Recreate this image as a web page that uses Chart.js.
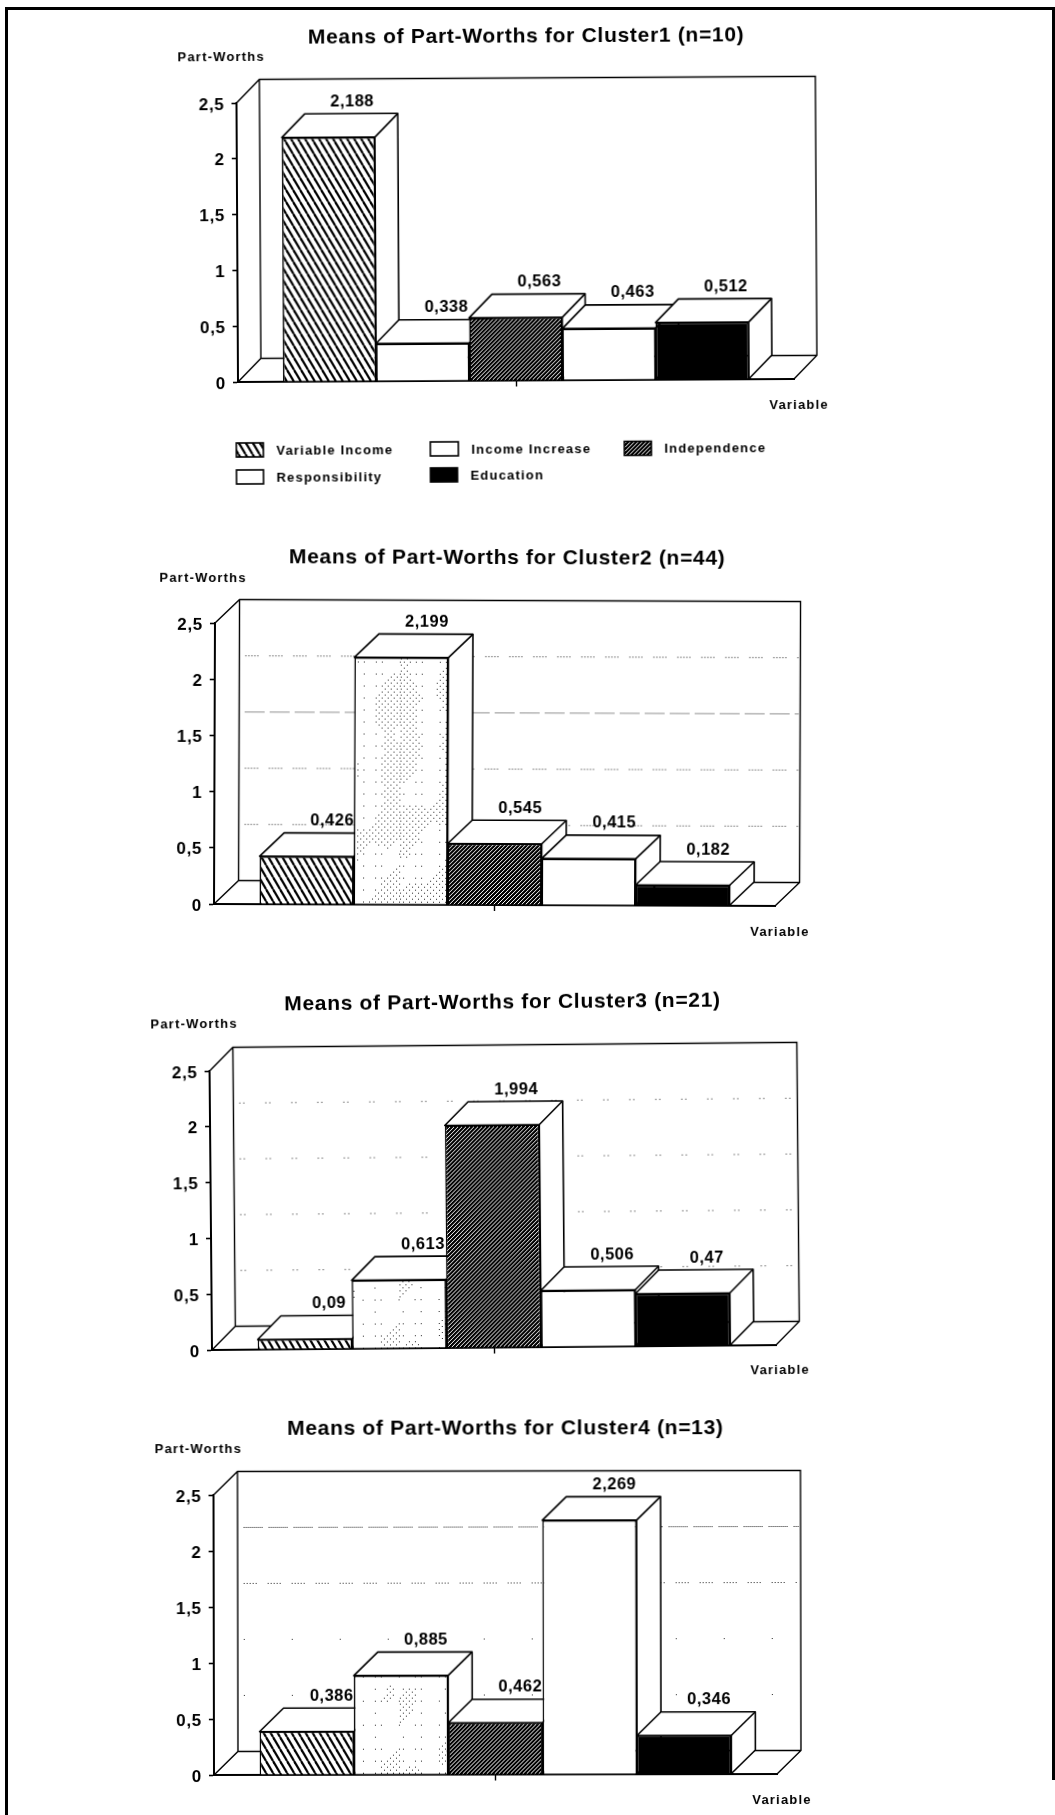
<!DOCTYPE html>
<html>
<head>
<meta charset="utf-8">
<title>Means of Part-Worths</title>
<script src="https://cdn.jsdelivr.net/npm/chart.js@4/dist/chart.umd.min.js"></script>
<style>
    html, body { margin: 0; padding: 0; background: #fff; }
    body { width: 1055px; height: 1815px; position: relative; overflow: hidden; }
    #frame { position: absolute; left: 5px; top: 7px; width: 1047px; height: 1810px; border-top: 3px solid #000; border-left: 3px solid #000; }
    #frameRight { position: absolute; left: 1052px; top: 7px; width: 3px; height: 1773px; background: #000; }
    canvas { position: absolute; }
</style>
</head>
<body>
<div id="frame"></div>
<div id="frameRight"></div>
<script>
// values
const categories = [''];
const seriesNames = ['Variable Income', 'Income Increase', 'Independence', 'Responsibility', 'Education'];
const cluster1 = [2.188, 0.338, 0.563, 0.463, 0.512];
const cluster2 = [0.426, 2.199, 0.545, 0.415, 0.182];
const cluster3 = [0.09, 0.613, 1.994, 0.506, 0.47];
const cluster4 = [0.386, 0.885, 0.462, 2.269, 0.346];
const clusterSizes = [10, 44, 21, 13];
const yTickLabels = ['0', '0,5', '1', '1,5', '2', '2,5'];
const gridValues = [0.5, 1, 1.5, 2];

// where each of the four scanned charts sits on the page
const charts = [
    { values: cluster1, titleX: 528, top: 22, left: 238, right: 794, y25: 103, y0: 382, dx: 23, dy: 23.5, tilt: -0.31, yName: [223, 58], xName: [799, 405], extra: 110, stipple: null, grid: null },
    { values: cluster2, titleX: 506, top: 541, left: 214, right: 775, y25: 623, y0: 904, dx: 24.5, dy: 23.5, tilt: 0.2, yName: [202, 578], xName: [780, 932], extra: 40, stipple: 'dense', grid: ['medium', 'medium', 'dense', 'medium'] },
    { values: cluster3, titleX: 505.5, top: 989, left: 212, right: 776, y25: 1071, y0: 1350, dx: 23.5, dy: 23.5, tilt: -0.5, yName: [197, 1025], xName: [780, 1370], extra: 40, stipple: 'light', grid: ['sparse', 'sparse', 'sparse', 'sparse'] },
    { values: cluster4, titleX: 506, top: 1413, left: 214, right: 777, y25: 1495, y0: 1775, dx: 24, dy: 23.5, tilt: -0.1, yName: [199, 1449], xName: [782, 1800], extra: 38, stipple: 'light', grid: ['rare', 'rare', 'medium', 'dense'] }
];
const legendSpots = [[236, 443, 27], [430, 443, 28], [624, 443.5, 27], [236, 470, 27], [430, 469, 27]];

const dashes = {
    dense: [1, 1, 1, 1, 1, 1, 1, 1, 1, 1, 1, 1, 1, 1, 1, 1, 1, 1, 1, 6],
    medium: [1, 2, 1, 2, 1, 2, 1, 2, 1, 11],
    sparse: [1, 3, 1, 21],
    rare: [1, 47]
};

const fontFamily = '"Liberation Sans", Arial, sans-serif';

function makeTile(w, h) {
    let tile = document.createElement('canvas');
    tile.width = w;
    tile.height = h;
    let c = tile.getContext('2d');
    c.fillStyle = '#fff';
    c.fillRect(0, 0, w, h);
    return [tile, c];
}

function backslashHatch() {
    let [tile, c] = makeTile(7, 12);
    c.strokeStyle = '#000';
    c.lineWidth = 2.2;
    for (let i = -1; i <= 1; i++) {
        c.beginPath();
        c.moveTo(i * 7, 0);
        c.lineTo(i * 7 + 7, 12);
        c.stroke();
    }
    return c.createPattern(tile, 'repeat');
}

function slashHatch() {
    let [tile, c] = makeTile(4, 4);
    c.fillStyle = '#000';
    for (let y = 0; y < 4; y++) {
        for (let x = 0; x < 4; x++) {
            if ((x + y) % 4 != 3) c.fillRect(x, y, 1, 1);
        }
    }
    return c.createPattern(tile, 'repeat');
}

// blotchy halftone of the copied bars: fixed dot lattice, thick in the blotches
function stipple(blotch, scatter) {
    let [tile, c] = makeTile(400, 400);
    c.fillStyle = '#222';
    for (let y = 0; y < 400; y += 3) {
        for (let x = (y / 3) % 2 ? 0 : 3; x < 400; x += 6) {
            let field = Math.sin(x * 0.13 + 1) + Math.sin(y * 0.09 + x * 0.05) + Math.sin((x + y) * 0.07);
            let keep = field > blotch;
            if (!keep && (x % 18 == 3 || x % 30 == 15) && y % 12 == 0) keep = Math.sin(x * 0.31) * Math.cos(y * 0.23) > scatter;
            if (keep) c.fillRect(x, y, 1, 1);
        }
    }
    return c.createPattern(tile, 'repeat');
}

const stripes = backslashHatch();
const darkStripes = slashHatch();
const stipples = { dense: stipple(0.1, -0.7), light: stipple(1.6, -0.3) };

function drawBox(chart, i, dx, dy) {
    const ctx = chart.ctx;
    const bar = chart.getDatasetMeta(i).data[0].getProps(['x', 'y', 'base', 'width'], true);
    const l = bar.x - bar.width / 2, r = bar.x + bar.width / 2;
    ctx.save();
    ctx.fillStyle = '#fff';
    ctx.strokeStyle = '#000';
    ctx.lineWidth = 1.6;
    ctx.lineJoin = 'round';
    ctx.beginPath();
    ctx.moveTo(l, bar.y);
    ctx.lineTo(l + dx, bar.y - dy);
    ctx.lineTo(r + dx, bar.y - dy);
    ctx.lineTo(r + dx, bar.base - dy);
    ctx.lineTo(r, bar.base);
    ctx.lineTo(r, bar.y);
    ctx.closePath();
    ctx.fill();
    ctx.stroke();
    ctx.beginPath();
    ctx.moveTo(r, bar.y);
    ctx.lineTo(r + dx, bar.y - dy);
    ctx.stroke();
    ctx.restore();
}

// the 3D box round the plot, the bar tops and sides, and the loose labels
const depthPlugin = {
    id: 'depth',
    afterLayout(chart) {
        // title centred on the whole canvas, not on the padded part
        chart.titleBlock.left = 0;
        chart.titleBlock.right = chart.width;
    },
    beforeDraw(chart) {
        chart.ctx.letterSpacing = '0.7px';
    },
    beforeDatasetsDraw(chart, args, opts) {
        const ctx = chart.ctx;
        const y = chart.scales.y;
        const a = chart.chartArea;
        const dx = opts.dx, dy = opts.dy;
        ctx.save();
        ctx.strokeStyle = '#000';
        ctx.lineWidth = 1.4;
        ctx.beginPath();
        ctx.moveTo(a.left, a.top);
        ctx.lineTo(a.left + dx, a.top - dy);
        ctx.lineTo(a.right + dx, a.top - dy);
        ctx.lineTo(a.right + dx, a.bottom - dy);
        ctx.lineTo(a.right, a.bottom);
        ctx.moveTo(a.left, a.bottom);
        ctx.lineTo(a.left + dx, a.bottom - dy);
        ctx.lineTo(a.right + dx, a.bottom - dy);
        ctx.moveTo(a.left + dx, a.top - dy);
        ctx.lineTo(a.left + dx, a.bottom - dy);
        ctx.stroke();
        if (opts.grid) {
            ctx.strokeStyle = '#222';
            ctx.lineWidth = 1;
            gridValues.forEach((v, i) => {
                ctx.setLineDash(dashes[opts.grid[i]]);
                ctx.beginPath();
                ctx.moveTo(a.left + dx + 6, y.getPixelForValue(v) - dy);
                ctx.lineTo(a.right + dx - 2, y.getPixelForValue(v) - dy);
                ctx.stroke();
            });
        }
        ctx.restore();
        // left to right, so each bar covers the side of the one before it
        chart.data.datasets.forEach((ds, i) => {
            drawBox(chart, i, dx, dy);
            chart.getDatasetMeta(i).controller.draw();
        });
        return false;
    },
    afterDraw(chart, args, opts) {
        const ctx = chart.ctx;
        // page spot -> canvas spot, undoing the tilt of the scan
        const local = (p) => [p[0], p[1] - opts.top - (p[0] - opts.left) * Math.tan(opts.tilt * Math.PI / 180)];
        ctx.save();
        ctx.fillStyle = '#000';
        ctx.textBaseline = 'middle';
        ctx.textAlign = 'center';
        ctx.font = 'bold 16.5px ' + fontFamily;
        ctx.letterSpacing = '0.5px';
        chart.data.datasets.forEach((ds, i) => {
            const bar = chart.getDatasetMeta(i).data[0].getProps(['x', 'y'], true);
            ctx.fillText(String(ds.data[0]).replace('.', ','), bar.x + opts.dx + 1, bar.y - opts.dy - 12);
        });
        ctx.font = 'bold 13px ' + fontFamily;
        ctx.letterSpacing = '1.2px';
        ctx.fillText('Part-Worths', ...local(opts.yName));
        ctx.fillText('Variable', ...local(opts.xName));
        if (opts.legend) {
            ctx.textAlign = 'left';
            opts.legend.forEach((item, i) => {
                const ds = chart.data.datasets[i];
                ctx.fillStyle = ds.backgroundColor;
                ctx.fillRect(item[0], item[1] - opts.top, item[2], 14);
                ctx.strokeStyle = '#000';
                ctx.lineWidth = 1.6;
                ctx.strokeRect(item[0], item[1] - opts.top, item[2], 14);
                ctx.fillStyle = '#000';
                ctx.fillText(ds.label, item[0] + item[2] + 13, item[1] + 8 - opts.top);
            });
        }
        ctx.restore();
    }
};

charts.forEach((spec, k) => {
    const pie = document.createElement('canvas');
    const width = Math.round(spec.titleX * 2);
    const height = spec.y0 - spec.top + spec.extra;
    pie.width = width;
    pie.height = height;
    pie.style.left = '0px';
    pie.style.top = spec.top + 'px';
    pie.style.width = width + 'px';
    pie.style.height = height + 'px';
    pie.style.transformOrigin = spec.left + 'px ' + (spec.y0 - spec.top) + 'px';
    pie.style.transform = 'rotate(' + spec.tilt + 'deg)';
    document.body.appendChild(pie);

    const fills = [stripes, spec.stipple ? stipples[spec.stipple] : '#fff', darkStripes, '#fff', '#000'];

    new Chart(pie, {
        type: 'bar',
        data: {
            labels: categories,
            datasets: seriesNames.map((name, i) => ({
                label: name,
                data: [spec.values[i]],
                backgroundColor: fills[i],
                borderColor: '#000',
                borderWidth: 1.6,
                categoryPercentage: 0.838,
                barPercentage: 1
            }))
        },
        options: {
            responsive: false,
            animation: false,
            devicePixelRatio: 1,
            layout: { padding: { left: 0, right: width - spec.right, top: 0, bottom: spec.extra - 30 } },
            scales: {
                x: {
                    afterFit: (scale) => { scale.height = 30; },
                    border: { color: '#000', width: 2 },
                    grid: { offset: false, drawOnChartArea: false, color: '#000', tickLength: 6, tickWidth: 1.4 },
                    ticks: { display: false }
                },
                y: {
                    min: 0,
                    max: 2.5,
                    afterFit: (scale) => { scale.width = spec.left; },
                    border: { color: '#000', width: 2 },
                    grid: { drawOnChartArea: false, color: '#000', tickLength: 5, tickWidth: 1.6 },
                    ticks: {
                        stepSize: 0.5,
                        padding: 7,
                        labelOffset: 2,
                        color: '#000',
                        font: { family: fontFamily, size: 17, weight: 'bold' },
                        callback: (value, index) => yTickLabels[index]
                    }
                }
            },
            plugins: {
                legend: { display: false },
                tooltip: { enabled: false },
                title: {
                    display: true,
                    text: 'Means of Part-Worths for Cluster' + (k + 1) + ' (n=' + clusterSizes[k] + ')',
                    color: '#000',
                    font: { family: fontFamily, size: 21, weight: 'bold' },
                    padding: { top: 4, bottom: spec.y25 - spec.top - 4 - 25.2 }
                },
                depth: {
                    dx: spec.dx,
                    dy: spec.dy,
                    grid: spec.grid,
                    top: spec.top,
                    left: spec.left,
                    tilt: spec.tilt,
                    yName: spec.yName,
                    xName: spec.xName,
                    legend: k == 0 ? legendSpots : null
                }
            }
        },
        plugins: [depthPlugin]
    });
});
</script>
</body>
</html>
